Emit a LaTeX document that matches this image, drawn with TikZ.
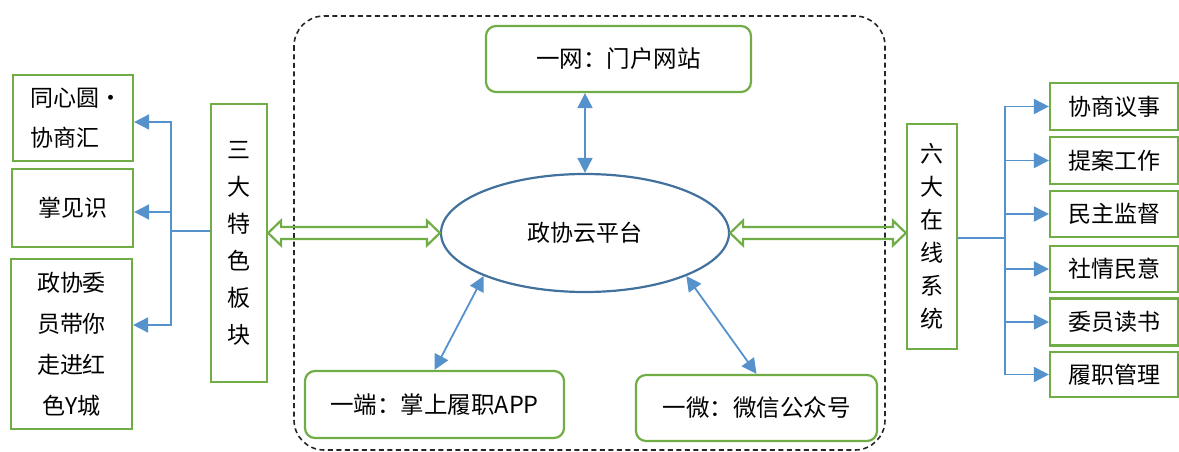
\documentclass[tikz,border=0pt]{standalone}
\usepackage{fontspec}
\newfontfamily\cjk{Noto Sans CJK SC}
\usetikzlibrary{arrows.meta,shapes.geometric,calc}
\definecolor{boxgreen}{HTML}{70AD47}
\definecolor{linkblue}{HTML}{5592CC}
\definecolor{ellblue}{HTML}{41719C}
\tikzset{
  gbox/.style={draw=boxgreen,line width=2.2pt,inner sep=0pt,font=\cjk\fontsize{23}{40}\selectfont},
  cbox/.style={gbox,rounded corners=10pt,font=\cjk\fontsize{23.5}{26}\selectfont},
  barrow/.style={draw=linkblue,line width=1.8pt,-{Triangle[length=15pt,width=15pt]}},
  bboth/.style={draw=linkblue,line width=1.8pt,{Triangle[length=15pt,width=15pt]}-{Triangle[length=15pt,width=15pt]}},
  bline/.style={draw=linkblue,line width=1.8pt},
  garrow/.style={draw=boxgreen,line width=2.2pt,line join=miter},
}
\newcommand\hollowarrow[3]{%
  \draw[garrow] let \p1=(#1), \p2=(#2), \p3=(#3) in
   (\x1,\y3) -- (\x1+13pt,\y3+12.5pt) -- (\x1+13pt,\y3+6pt) -- (\x2-13pt,\y3+6pt)
   -- (\x2-13pt,\y3+12.5pt) -- (\x2,\y3) -- (\x2-13pt,\y3-12.5pt) -- (\x2-13pt,\y3-6pt)
   -- (\x1+13pt,\y3-6pt) -- (\x1+13pt,\y3-12.5pt) -- cycle;}
\begin{document}
\begin{tikzpicture}[x=1pt,y=-1pt]
\useasboundingbox (0,0) rectangle (1179,452);
% dashed frame
\draw[black!85,line width=1.6pt,dash pattern=on 5pt off 3.5pt,rounded corners=30pt] (294,16) rectangle (885,450);
% center
\node[cbox,minimum width=265pt,minimum height=66pt] (top) at (618.5,59) {一网：门户网站};
\node[draw=ellblue,line width=2.2pt,ellipse,minimum width=288pt,minimum height=118pt,inner sep=0pt,
      font=\cjk\fontsize{23}{26}\selectfont] (cloud) at (585,233) {\raisebox{-7pt}{政协云平台}};
\node[cbox,minimum width=259pt,minimum height=67pt] (bl) at (434.5,404.5) {一端：掌上履职APP};
\node[cbox,minimum width=241pt,minimum height=66pt] (br) at (756.5,408) {一微：微信公众号};
\draw[bboth] (cloud.north) -- (cloud.north |- top.south);
\draw[bboth] (cloud.203) -- (bl.north);
\draw[bboth] (cloud.-23) -- (br.north);
% left
\node[gbox,minimum width=56pt,minimum height=278pt,align=center,font=\cjk\fontsize{23}{37}\selectfont] (sanda) at (239,243) {三\\大\\特\\色\\板\\块};
\node[gbox,minimum width=120pt,minimum height=86pt,align=left] (L1) at (73,118) {同心圆\hspace{8pt}\makebox[8pt]{·}\\协商汇};
\node[gbox,minimum width=121pt,minimum height=78pt] (L2) at (72.5,208) {掌见识};
\node[gbox,minimum width=121pt,minimum height=170pt,align=center,font=\cjk\fontsize{23}{41}\selectfont] (L3) at (71.5,344) {政协委\\员带你\\走进红\\色Y城};
\coordinate (lj) at (171,231);
\draw[bline] (sanda.west |- lj) -- (lj);
\draw[barrow] (lj) |- ([yshift=-4pt]L1.east);
\draw[barrow] (lj) |- ([yshift=-4pt]L2.east);
\draw[barrow] (lj) |- ([yshift=19pt]L3.east);
\hollowarrow{sanda.east}{cloud.west}{cloud.west}
% right
\node[gbox,minimum width=50pt,minimum height=225pt,align=center,font=\cjk\fontsize{23}{33}\selectfont] (liuda) at (932,236.5) {六\\大\\在\\线\\系\\统};
\node[gbox,minimum width=128pt,minimum height=47pt] (R1) at (1114,106.5) {协商议事};
\node[gbox,minimum width=128pt,minimum height=47pt] (R2) at (1114,160.5) {提案工作};
\node[gbox,minimum width=128pt,minimum height=46pt] (R3) at (1114,214) {民主监督};
\node[gbox,minimum width=128pt,minimum height=46pt] (R4) at (1114,269) {社情民意};
\node[gbox,minimum width=128pt,minimum height=47pt] (R5) at (1114,322) {委员读书};
\node[gbox,minimum width=128pt,minimum height=45pt] (R6) at (1114,374.5) {履职管理};
\coordinate (rj) at (1005,238);
\draw[bline] (liuda.east |- rj) -- (rj);
\foreach \r in {R1,R2,R3,R4,R5,R6} \draw[barrow] (rj) |- (\r.west);
\hollowarrow{cloud.east}{liuda.west}{cloud.east}
\end{tikzpicture}
\end{document}
